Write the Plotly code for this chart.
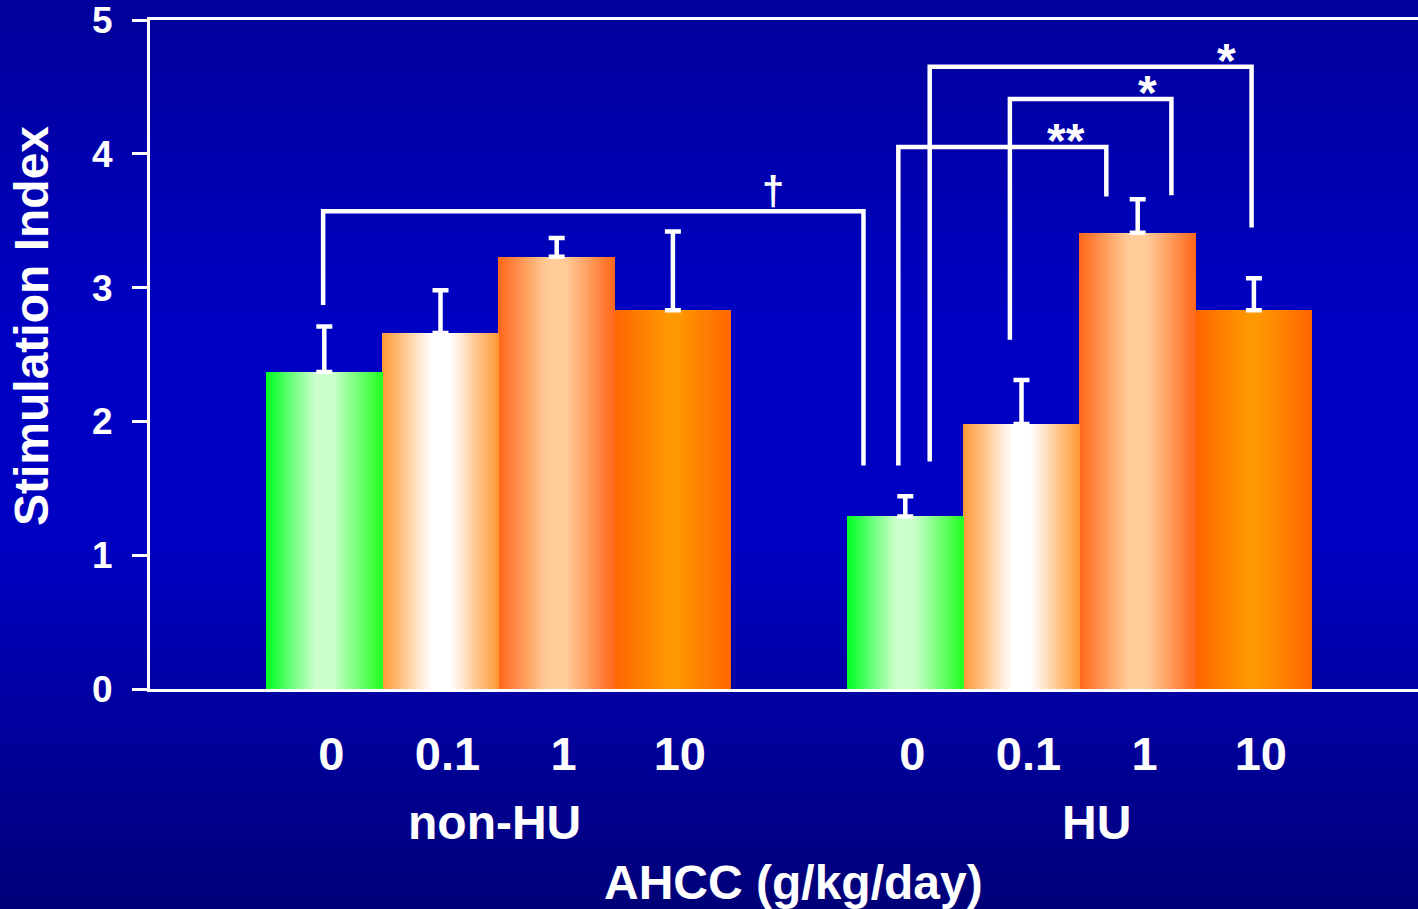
import plotly.graph_objects as go

# ---------------- data ----------------
groups = ["non-HU", "HU"]
doses = ["0", "0.1", "1", "10"]
nonhu_mean = [2.37, 2.66, 3.23, 2.83]
nonhu_err = [0.34, 0.32, 0.14, 0.59]
hu_mean = [1.29, 1.98, 3.41, 2.83]
hu_err = [0.15, 0.33, 0.25, 0.24]

y_ticks = [0, 1, 2, 3, 4, 5]

# significance brackets (x in bar-slot units, y in Stimulation Index units)
br_labels = ["\u2020", "**", "*", "*"]
br_x_left = [1.49, 6.44, 7.40, 6.71]
br_x_right = [6.14, 8.23, 8.79, 9.48]
br_y_top = [3.57, 4.05, 4.41, 4.65]
br_y_left = [2.87, 1.67, 2.61, 1.70]
br_y_right = [1.67, 3.68, 3.69, 3.45]
br_label_x = [5.36, 7.88, 8.58, 9.26]

# ---------------- styling ----------------
FONT = "Liberation Sans, Arial, sans-serif"
dose_gradients = [
    [(0.0, (0x00, 0xFF, 0x22)), (0.42, (0xCC, 0xFF, 0xCC)), (0.58, (0xC8, 0xFF, 0xC8)), (1.0, (0x22, 0xFF, 0x22))],
    [(0.0, (0xFF, 0x99, 0x33)), (0.42, (0xFF, 0xFF, 0xFF)), (0.58, (0xFF, 0xFF, 0xFF)), (1.0, (0xFF, 0x99, 0x33))],
    [(0.0, (0xFF, 0x66, 0x19)), (0.42, (0xFF, 0xCC, 0x99)), (0.58, (0xFF, 0xCC, 0x99)), (1.0, (0xFF, 0x66, 0x19))],
    [(0.0, (0xFF, 0x66, 0x00)), (0.47, (0xFF, 0x99, 0x00)), (0.53, (0xFF, 0x99, 0x00)), (1.0, (0xFF, 0x66, 0x00))],
]


def interp(stops, t):
    for (t0, c0), (t1, c1) in zip(stops[:-1], stops[1:]):
        if t0 <= t <= t1:
            f = 0 if t1 == t0 else (t - t0) / (t1 - t0)
            c = [round(a + (b - a) * f) for a, b in zip(c0, c1)]
            return "rgb(%d,%d,%d)" % tuple(c)
    return "rgb(%d,%d,%d)" % stops[-1][1]


# bar slot positions: group gap of one slot, one empty slot on the left
centers = []
means = []
errs = []
grad_idx = []
for g, (m_list, e_list) in enumerate([(nonhu_mean, nonhu_err), (hu_mean, hu_err)]):
    for d in range(len(doses)):
        centers.append(1.5 + g * (len(doses) + 1) + d)
        means.append(m_list[d])
        errs.append(e_list[d])
        grad_idx.append(d)

fig = go.Figure()

N = 40
for k in range(N):
    t = (k + 0.5) / N
    fig.add_trace(go.Bar(
        x=[c - 0.5 + t for c in centers],
        y=means,
        width=1.0 / N * 1.08,
        marker=dict(color=[interp(dose_gradients[i], t) for i in grad_idx], line=dict(width=0)),
        hoverinfo="skip",
        showlegend=False,
    ))

fig.add_trace(go.Scatter(
    x=centers, y=means, mode="markers",
    marker=dict(size=1, opacity=0),
    error_y=dict(type="data", array=errs, arrayminus=[0] * len(errs), symmetric=False,
                 color="white", thickness=4.5, width=8),
    hoverinfo="skip", showlegend=False,
))

shapes = []
# vertical background gradient
stops_bg = [(0.0, (0x00, 0x00, 0x9A)), (0.35, (0x00, 0x00, 0xC2)), (0.6, (0x00, 0x00, 0xC2)), (1.0, (0x00, 0x00, 0x78))]
H, W = 909, 1418
ML, MT, MB = 150, 20, 220
ph = H - MT - MB
pw = W - ML
NS = 100
for s in range(NS):
    p0 = H * s / NS
    p1 = H * (s + 1) / NS + 1
    shapes.append(dict(type="rect", xref="paper", yref="paper", layer="below",
                       x0=-ML / pw - 0.01, x1=1.01,
                       y0=(H - MB - p1) / ph, y1=(H - MB - p0) / ph,
                       fillcolor=interp(stops_bg, (s + 0.5) / NS), line=dict(width=0)))

for xl, xr, yt, yl, yr in zip(br_x_left, br_x_right, br_y_top, br_y_left, br_y_right):
    shapes.append(dict(type="path", xref="x", yref="y", layer="above",
                       path=f"M {xl},{yl} L {xl},{yt} L {xr},{yt} L {xr},{yr}",
                       line=dict(color="white", width=4.5)))

annotations = []
for lab, lx, yt in zip(br_labels, br_label_x, br_y_top):
    if lab == "\u2020":
        annotations.append(dict(x=lx, y=yt, xref="x", yref="y", text=lab, showarrow=False,
                                yanchor="bottom", yshift=-4,
                                font=dict(family=FONT, size=40, color="white", weight="bold")))
    else:
        annotations.append(dict(x=lx, y=yt, xref="x", yref="y", text=lab, showarrow=False,
                                yanchor="bottom", yshift=-22,
                                font=dict(family=FONT, size=48, color="white", weight="bold")))

group_centers = [sum(centers[g * 4:(g + 1) * 4]) / 4 for g in range(len(groups))]
for g, name in enumerate(groups):
    annotations.append(dict(x=group_centers[g], y=0, xref="x", yref="paper",
                            text=name, showarrow=False, yanchor="middle",
                            xshift=[-4, 17][g], yshift=-(822 - (H - MB)),
                            font=dict(family=FONT, size=48, color="white", weight="bold")))

annotations.append(dict(x=(793 - ML) / pw, y=0, xref="paper", yref="paper",
                        text="AHCC (g/kg/day)", showarrow=False, yanchor="middle",
                        yshift=-(882 - (H - MB)),
                        font=dict(family=FONT, size=48, color="white", weight="bold")))
annotations.append(dict(x=(31 - ML) / pw, y=(H - MB - 326) / ph, xref="paper", yref="paper",
                        text="Stimulation Index", showarrow=False, textangle=-90,
                        xanchor="center", yanchor="middle",
                        font=dict(family=FONT, size=48, color="white", weight="bold")))

fig.update_layout(
    width=W, height=H,
    margin=dict(l=ML, r=0, t=MT, b=MB, pad=0),
    paper_bgcolor="#0000B0",
    plot_bgcolor="rgba(0,0,0,0)",
    barmode="overlay",
    bargap=0,
    showlegend=False,
    shapes=shapes,
    annotations=annotations,
    xaxis=dict(range=[0, pw / 116.2], showgrid=False, zeroline=False,
               showline=True, linecolor="white", linewidth=3, mirror=True,
               tickvals=[c + 0.06 for c in centers], ticktext=doses * len(groups),
               ticks="", ticklabelstandoff=22,
               tickfont=dict(family=FONT, size=47, color="white", weight="bold")),
    yaxis=dict(range=[0, 5], tickvals=y_ticks, showgrid=False, zeroline=False,
               showline=True, linecolor="white", linewidth=3,
               ticks="outside", ticklen=15, tickwidth=3, tickcolor="white",
               ticklabelstandoff=12, ticklabeloverflow="allow",
               tickfont=dict(family=FONT, size=37, color="white", weight="bold")),
)

fig.write_html("out.html")
